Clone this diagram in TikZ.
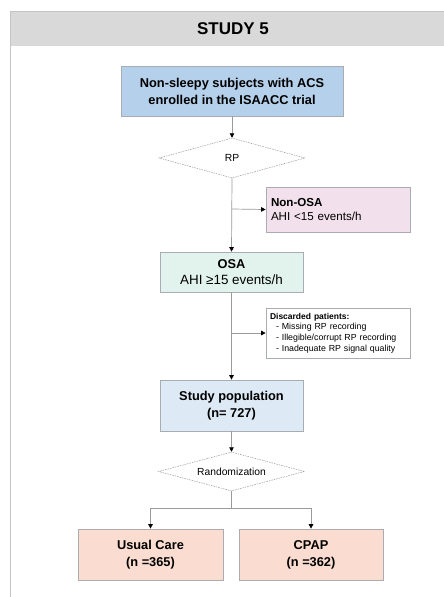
\documentclass[tikz,border=0pt]{standalone}
\usepackage{fontspec}
\setmainfont{Liberation Sans}
\usetikzlibrary{shapes.geometric,arrows.meta}
\definecolor{framecol}{HTML}{C4C4C4}
\definecolor{headfill}{HTML}{D9D9D9}
\definecolor{boxline}{HTML}{A9ADB2}
\definecolor{linecol}{HTML}{9A9A9A}
\definecolor{bluefill}{HTML}{B4D0EA}
\definecolor{lightblue}{HTML}{DDE9F5}
\definecolor{pinkfill}{HTML}{F2E0EC}
\definecolor{mintfill}{HTML}{E2F3EE}
\definecolor{peachfill}{HTML}{FADDD0}
\tikzset{
  box/.style={draw=boxline, line width=0.7pt, rectangle, inner sep=2pt, align=center, text=black},
  bigbold/.style={font=\bfseries\fontsize{12.8}{17}\selectfont},
  decision/.style={diamond, aspect=3.7, draw=linecol, dashed, dash pattern=on 1.5pt off 1pt, line width=0.5pt, inner sep=0pt, font=\fontsize{10.3}{12}\selectfont},
  conn/.style={draw=linecol, line width=0.7pt},
  arr/.style={conn, -{Triangle[width=4.5pt,length=4.5pt,color=black]}}
}
\begin{document}
\begin{tikzpicture}[x=1pt,y=-1pt]
\useasboundingbox (0,0) rectangle (444,597);
% frame and header
\fill[headfill] (10,11) rectangle (446,46);
\draw[framecol, line width=0.8pt] (446,11) -- (10,11) -- (10,599);
\node[font=\bfseries\fontsize{17}{19}\selectfont] (title) at (233,29) {STUDY 5};

\node[box, fill=bluefill, minimum width=222pt, minimum height=50pt, bigbold] (start) at (232,91) {Non-sleepy subjects with ACS\\enrolled in the ISAACC trial};

\node[decision, minimum width=146pt, minimum height=40pt] (rp) at (232,158) {RP};

\node[box, fill=pinkfill, minimum width=144pt, minimum height=45pt, align=left, text width=134pt, font=\fontsize{11.6}{14}\selectfont] (nonosa) at (338,209.5) {\textbf{Non-OSA}\\AHI <15 events/h};

\node[box, fill=mintfill, minimum width=143pt, minimum height=40pt, font=\fontsize{13.4}{16}\selectfont] (osa) at (231.5,272) {\textbf{\fontsize{12.8}{16}\selectfont OSA}\\AHI ≥15 events/h};

\node[box, fill=white, minimum width=144pt, minimum height=50pt, align=left, text width=136pt, font=\fontsize{8.8}{10.7}\selectfont] (disc) at (338,333) {{\bfseries\fontsize{8.5}{10.7}\selectfont Discarded patients:}\\
\hspace*{6pt}- Missing RP recording\\
\hspace*{6pt}- Illegible/corrupt RP recording\\
\hspace*{6pt}- Inadequate RP signal quality};

\node[box, fill=lightblue, minimum width=143pt, minimum height=51pt, bigbold] (study) at (231.5,405.5) {Study population\\(n= 727)};

\node[decision, minimum width=146pt, minimum height=39pt] (rand) at (231.5,471.5) {Randomization};

\node[box, fill=peachfill, minimum width=145pt, minimum height=51pt, bigbold] (usual) at (150.5,554.5) {Usual Care\\(n =365)};
\node[box, fill=peachfill, minimum width=144pt, minimum height=51pt, bigbold] (cpap) at (311,554.5) {CPAP\\(n =362)};

% connectors
\draw[arr] (start.south) -- (rp.north);
\draw[arr] (rp.south) -- (osa.north);
\coordinate (b1) at (232,209);
\draw[arr] (b1) -- (nonosa.west);
\draw[arr] (osa.south) -- (study.north);
\coordinate (b2) at (231.5,333);
\draw[arr] (b2) -- (disc.west);
\draw[arr] (study.south) -- (rand.north);
\coordinate (split) at (231.5,508);
\draw[conn] (rand.south) -- (split);
\draw[arr] (split) -| (usual.north);
\draw[arr] (split) -| (cpap.north);
\end{tikzpicture}
\end{document}
